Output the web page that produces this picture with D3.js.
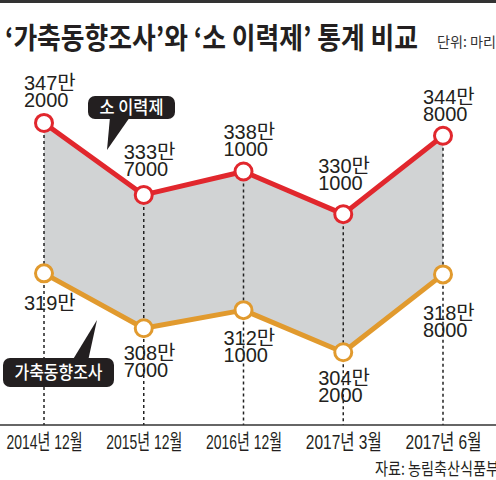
<!DOCTYPE html>
<html>
<head>
<meta charset="utf-8">
<script src="https://cdn.jsdelivr.net/npm/d3@7"></script>
<style>
  body { margin: 0; background: #fff; }
  svg { display: block; }
</style>
</head>
<body>
<div id="chart"></div>
<script>
// chart data (values in 만 마리)
const periods = ["2014년 12월", "2015년 12월", "2016년 12월", "2017년 3월", "2017년 6월"];
const traceValues = [347.2, 333.7, 338.1, 330.1, 344.8];   // 소 이력제
const surveyValues = [319.0, 308.7, 312.1, 304.2, 318.8];  // 가축동향조사
const seriesNames = ["소 이력제", "가축동향조사"];

// small label nudges so the numbers sit like the original
const traceNudge = [[0, 0], [0, -3], [0, 1], [-5, -8], [0, 1]];
const surveyNudge = [[0, 3], [0, -2], [0, 1], [-5, -1], [0, 12]];

const width = 496;
const height = 480;
const numFont = "'Liberation Sans Narrow', 'Arial Narrow', 'Liberation Sans', 'Noto Sans CJK KR', sans-serif";
const krFont = "'Noto Sans CJK KR', sans-serif";

const svg = d3.select("#chart")
  .append("svg")
  .attr("width", width)
  .attr("height", height);

const x = d3.scalePoint().domain(periods).range([44, 443]);
const y = d3.scaleLinear().domain([290, 350]).range([428, 108]);
const axisY = 425;

// top rule
svg.append("rect").attr("x", 0).attr("y", 0).attr("width", width).attr("height", 3).attr("fill", "#333");

// title
svg.append("text")
  .attr("x", 5).attr("y", 49)
  .attr("font-family", krFont).attr("font-weight", 700).attr("font-size", 29)
  .attr("textLength", 413).attr("lengthAdjust", "spacingAndGlyphs")
  .attr("fill", "#231f20")
  .text("‘가축동향조사’와 ‘소 이력제’ 통계 비교");

svg.append("text")
  .attr("x", 437).attr("y", 47)
  .attr("font-family", krFont).attr("font-size", 14)
  .attr("textLength", 59).attr("lengthAdjust", "spacingAndGlyphs")
  .attr("fill", "#333")
  .text("단위: 마리");

// gray band between the two series
const band = d3.area()
  .x((d, i) => x(periods[i]))
  .y0((d, i) => y(surveyValues[i]))
  .y1(d => y(d));

svg.append("path")
  .datum(traceValues)
  .attr("d", band)
  .attr("fill", "#d1d3d4");

// dashed drop lines
svg.selectAll(".drop")
  .data(periods)
  .enter()
  .append("line")
  .attr("x1", d => x(d)).attr("x2", d => x(d))
  .attr("y1", (d, i) => y(traceValues[i])).attr("y2", axisY)
  .attr("stroke", "#222").attr("stroke-width", 1.5)
  .attr("stroke-dasharray", "3,3");

// x axis
const xAxis = d3.axisBottom(x).tickSize(0).tickPadding(0);
const gx = svg.append("g").attr("transform", `translate(0,${axisY})`).call(xAxis);
gx.select(".domain").remove();
gx.append("line").attr("x1", 0).attr("x2", width).attr("stroke", "#333").attr("stroke-width", 1.5);
gx.selectAll(".tick text")
  .attr("y", 24).attr("dy", null)
  .attr("font-family", numFont).attr("font-size", 21)
  .attr("fill", "#231f20")
  .attr("textLength", d => d.length > 9 ? 84 : 76)
  .attr("lengthAdjust", "spacingAndGlyphs");

// series lines and markers
const series = [
  { values: traceValues, color: "#e1272d", nudge: traceNudge, above: true },
  { values: surveyValues, color: "#e19a2e", nudge: surveyNudge, above: false }
];

const line = d3.line()
  .x((d, i) => x(periods[i]))
  .y(d => y(d));

series.forEach(s => {
  svg.append("path")
    .datum(s.values)
    .attr("d", line)
    .attr("fill", "none")
    .attr("stroke", s.color)
    .attr("stroke-width", 5)
    .attr("stroke-linejoin", "round");
});

series.forEach(s => {
  svg.selectAll(null)
    .data(s.values)
    .enter()
    .append("circle")
    .attr("cx", (d, i) => x(periods[i]))
    .attr("cy", d => y(d))
    .attr("r", 8.5)
    .attr("fill", "#fff")
    .attr("stroke", s.color)
    .attr("stroke-width", 3);
});

// value labels, e.g. 347만 / 2000
function labelLines(v) {
  const man = Math.floor(v + 1e-9);
  const rest = Math.round((v - man) * 10000);
  return rest > 0 ? [man + "만", String(rest)] : [man + "만"];
}

series.forEach(s => {
  s.values.forEach((v, i) => {
    const lines = labelLines(v);
    const lx = x(periods[i]) - 20 + s.nudge[i][0];
    const base = s.above ? y(v) - 16 - 17 * (lines.length - 1) : y(v) + 34;
    const t = svg.append("text")
      .attr("font-family", numFont).attr("font-size", 20)
      .attr("fill", "#231f20");
    lines.forEach((ln, k) => {
      t.append("tspan")
        .attr("x", lx)
        .attr("y", base + s.nudge[i][1] + k * 17)
        .text(ln);
    });
  });
});

// callout tags
function callout(label, box, tail, textLen) {
  svg.append("path")
    .attr("d", d3.line()(tail) + "Z")
    .attr("fill", "#231f20");
  svg.append("rect")
    .attr("x", box[0]).attr("y", box[1])
    .attr("width", box[2]).attr("height", box[3])
    .attr("rx", 7)
    .attr("fill", "#231f20");
  svg.append("text")
    .attr("x", box[0] + box[2] / 2)
    .attr("y", box[1] + box[3] / 2 + 6)
    .attr("text-anchor", "middle")
    .attr("font-family", krFont).attr("font-size", 18).attr("font-weight", 500)
    .attr("fill", "#fff")
    .attr("textLength", textLen).attr("lengthAdjust", "spacingAndGlyphs")
    .text(label);
}

callout(seriesNames[0], [88, 96, 87, 23], [[110, 117], [130, 117], [107, 150]], 64);
callout(seriesNames[1], [3, 358, 111, 29], [[72, 361], [88, 361], [97, 320]], 88);

// source
svg.append("text")
  .attr("x", 375).attr("y", 475)
  .attr("font-family", krFont).attr("font-size", 17)
  .attr("textLength", 124).attr("lengthAdjust", "spacingAndGlyphs")
  .attr("fill", "#231f20")
  .text("자료: 농림축산식품부");
</script>
</body>
</html>
